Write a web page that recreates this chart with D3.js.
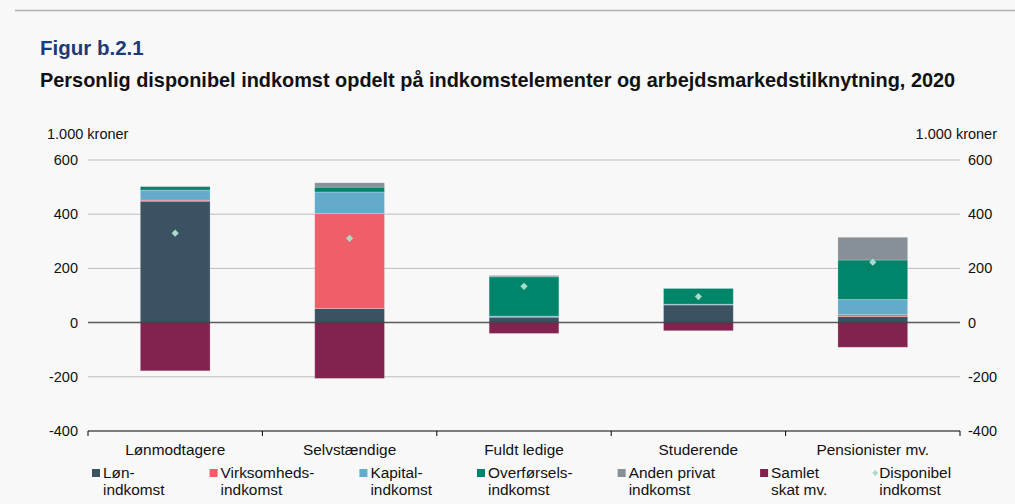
<!DOCTYPE html>
<html>
<head>
<meta charset="utf-8">
<script src="https://cdn.jsdelivr.net/npm/d3@7"></script>
<style>
  body { margin: 0; background: #f8f8f8; }
  svg { display: block; font-family: "Liberation Sans", Arial, sans-serif; }
</style>
</head>
<body>
<div id="chart"></div>
<script>
// data, 1.000 kroner
const categories = ["Lønmodtagere", "Selvstændige", "Fuldt ledige", "Studerende", "Pensionister mv."];
const lon        = [448, 52, 20, 65, 22];
const virksomhed = [4, 350, 0, 0, 7];
const kapital    = [37, 80, 4, 3, 56];
const overforsel = [13, 18, 145, 58, 146];
const anden      = [0, 16, 5, 0, 84];
const skat       = [-178, -206, -40, -30, -91];
const disponibel = [330, 311, 134, 96, 223];
const yTicks = [-400, -200, 0, 200, 400, 600];

const seriesNames = [["Løn-", "indkomst"], ["Virksomheds-", "indkomst"], ["Kapital-", "indkomst"],
  ["Overførsels-", "indkomst"], ["Anden privat", "indkomst"], ["Samlet", "skat mv."], ["Disponibel", "indkomst"]];
const colors = ["#3b5262", "#ee5f69", "#64aacb", "#00846a", "#878f98", "#82224e", "#a6dcc8"];

const W = 1015, H = 504;
const svg = d3.select("#chart").append("svg").attr("width", W).attr("height", H);

svg.append("rect").attr("width", W).attr("height", H).attr("fill", "#f8f8f8");
svg.append("line").attr("x1", 15).attr("x2", W).attr("y1", 10.5).attr("y2", 10.5)
   .attr("stroke", "#b0b0b0").attr("stroke-width", 1.5);

svg.append("text").attr("x", 40).attr("y", 55).attr("fill", "#1c3a78")
   .attr("font-size", 20.5).attr("font-weight", "bold").text("Figur b.2.1");
svg.append("text").attr("x", 40).attr("y", 87).attr("fill", "#111")
   .attr("font-size", 19.9).attr("font-weight", "bold")
   .text("Personlig disponibel indkomst opdelt på indkomstelementer og arbejdsmarkedstilknytning, 2020");

const left = 88, right = 960;
const x = d3.scaleBand().domain(categories).range([left, right]);
const y = d3.scaleLinear().domain([-400, 600]).range([431, 160]);
const barW = x.bandwidth() * 0.4;

// gridlines
svg.append("g").selectAll("line").data(yTicks.filter(d => d !== 0 && d !== -400)).enter().append("line")
   .attr("x1", left).attr("x2", right)
   .attr("y1", d => y(d)).attr("y2", d => y(d))
   .attr("stroke", "#bdbdbd").attr("stroke-width", 1);

// axis labels
const tickFont = 14.5, labelFont = 15.4;
svg.append("g").selectAll("text").data(yTicks).enter().append("text")
   .attr("x", 78).attr("y", d => y(d) + 5).attr("text-anchor", "end")
   .attr("font-size", tickFont).attr("fill", "#111").text(d => d);
svg.append("g").selectAll("text").data(yTicks).enter().append("text")
   .attr("x", 968).attr("y", d => y(d) + 5).attr("text-anchor", "start")
   .attr("font-size", tickFont).attr("fill", "#111").text(d => d);
svg.append("text").attr("x", 47).attr("y", 139).attr("font-size", tickFont).attr("fill", "#111").text("1.000 kroner");
svg.append("text").attr("x", 997).attr("y", 139).attr("text-anchor", "end")
   .attr("font-size", tickFont).attr("fill", "#111").text("1.000 kroner");

// stacked bars
const positive = [lon, virksomhed, kapital, overforsel, anden];
const barG = svg.append("g");
categories.forEach((c, i) => {
  let base = 0;
  positive.forEach((s, k) => {
    const v = s[i];
    if (v <= 0) return;
    barG.append("rect")
        .attr("x", x(c) + (x.bandwidth() - barW) / 2).attr("width", barW)
        .attr("y", y(base + v)).attr("height", y(base) - y(base + v))
        .attr("fill", colors[k]).attr("stroke", "rgba(255,255,255,0.3)").attr("stroke-width", 0.8);
    base += v;
  });
  barG.append("rect")
      .attr("x", x(c) + (x.bandwidth() - barW) / 2).attr("width", barW)
      .attr("y", y(0)).attr("height", y(skat[i]) - y(0))
      .attr("fill", colors[5]).attr("stroke", "rgba(255,255,255,0.3)").attr("stroke-width", 0.8);
});

// zero line
svg.append("line").attr("x1", left).attr("x2", right).attr("y1", y(0)).attr("y2", y(0))
   .attr("stroke", "#333").attr("stroke-opacity", 0.8).attr("stroke-width", 1.5);

// disponibel markers (square rotated 45°)
svg.append("g").selectAll("path").data(disponibel).enter().append("path")
   .attr("d", d3.symbol().type(d3.symbolSquare).size(26))
   .attr("transform", (d, i) => `translate(${x(categories[i]) + x.bandwidth() / 2},${y(d)}) rotate(45)`)
   .attr("fill", colors[6]);

// bottom axis
const xAxis = svg.append("g").attr("transform", `translate(0,${y(-400)})`);
xAxis.append("line").attr("x1", left).attr("x2", right).attr("stroke", "#000").attr("stroke-width", 1.2);
xAxis.selectAll(".tk").data(d3.range(categories.length + 1)).enter().append("line")
   .attr("x1", i => left + i * x.step()).attr("x2", i => left + i * x.step())
   .attr("y1", 0).attr("y2", 5).attr("stroke", "#000");
xAxis.selectAll("text").data(categories).enter().append("text")
   .attr("x", d => x(d) + x.bandwidth() / 2).attr("y", 24).attr("text-anchor", "middle")
   .attr("font-size", labelFont).attr("fill", "#111").text(d => d);

// legend
const lg = svg.append("g");
let lx = 92;
seriesNames.forEach((lines, k) => {
  const item = lg.append("g").attr("transform", `translate(${lx},0)`);
  if (k < 6) {
    item.append("rect").attr("x", 0).attr("y", 469).attr("width", 8).attr("height", 8).attr("fill", colors[k]);
  } else {
    item.append("path").attr("d", d3.symbol().type(d3.symbolSquare).size(18))
        .attr("transform", "translate(3,473) rotate(45)").attr("fill", colors[k]);
  }
  let maxW = 0;
  lines.forEach((t, j) => {
    const tx = item.append("text").attr("x", k < 6 ? 11 : 7).attr("y", 478 + j * 16.5)
        .attr("font-size", labelFont).attr("fill", "#111").text(t);
    maxW = Math.max(maxW, tx.node().getComputedTextLength());
  });
  lx += maxW + 56;
});
</script>
</body>
</html>
